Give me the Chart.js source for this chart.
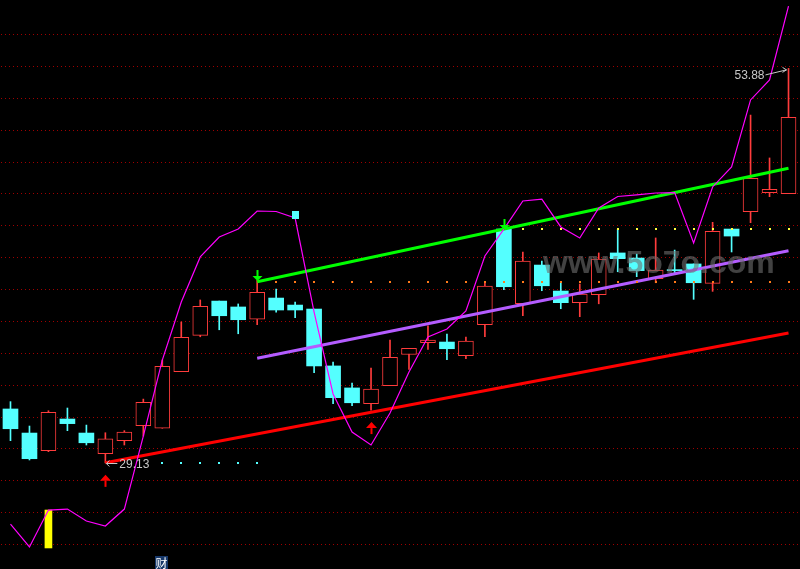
<!DOCTYPE html>
<html>
<head>
<meta charset="utf-8">
<script src="https://cdn.jsdelivr.net/npm/chart.js@4.4.1/dist/chart.umd.min.js"></script>
<style>
  html, body { margin: 0; padding: 0; background: #000; }
  #wrap { width: 800px; height: 569px; }
</style>
</head>
<body>
<div id="wrap"><canvas id="kline" width="800" height="569"></canvas></div>
<script>
// daily bars, oldest first
const opens  = [32.51, 31.00, 29.89, 31.88, 31.00, 29.70, 30.52, 31.46, 31.30, 34.85,
                37.13, 39.28, 38.91, 38.14, 39.47, 39.03, 38.78, 35.21, 33.83, 32.84,
                33.97, 35.93, 36.67, 36.71, 35.85, 37.80, 43.80, 39.11, 41.54, 39.91,
                39.18, 39.68, 42.30, 41.98, 40.68, 41.21, 41.61, 40.39, 43.80, 44.89,
                46.08, 46.02];
const highs  = [32.97, 31.44, 32.40, 32.57, 31.50, 31.02, 31.15, 33.13, 35.58, 37.97,
                39.35, 39.28, 39.10, 40.60, 40.04, 39.22, 38.78, 35.46, 34.14, 35.08,
                36.84, 36.32, 37.72, 37.21, 37.02, 40.48, 43.80, 42.36, 41.79, 40.43,
                40.35, 42.30, 43.80, 42.23, 43.24, 42.48, 41.61, 44.22, 43.80, 50.95,
                48.26, 53.88];
const lows   = [30.52, 29.31, 29.83, 31.15, 30.25, 29.13, 30.25, 30.81, 31.30, 34.85,
                37.04, 37.48, 37.23, 37.80, 38.59, 38.24, 34.79, 32.84, 32.71, 32.44,
                33.97, 34.99, 36.25, 35.60, 35.66, 37.04, 39.99, 38.36, 39.93, 38.80,
                38.30, 39.11, 41.12, 40.81, 40.43, 41.04, 39.39, 39.89, 42.36, 44.20,
                45.83, 46.02];
const closes = [31.27, 29.39, 32.30, 31.59, 30.39, 30.63, 31.06, 32.93, 35.19, 37.01,
                38.95, 38.36, 38.11, 39.83, 38.72, 38.72, 35.21, 33.22, 32.90, 33.76,
                35.75, 36.32, 36.84, 36.29, 36.77, 40.22, 40.18, 41.79, 40.24, 39.18,
                39.72, 41.92, 41.94, 41.19, 41.23, 41.19, 40.43, 43.66, 43.36, 46.98,
                46.29, 50.81];

// magenta indicator line
const indicator = [25.29, 23.85, 26.17, 26.23, 25.48, 25.17, 26.23, 30.81, 35.58, 39.22,
                   42.05, 43.30, 43.80, 44.93, 44.90, 44.49, 38.59, 33.45, 31.06, 30.25,
                   32.26, 34.83, 37.03, 37.53, 38.66, 42.11, 43.80, 45.56, 45.68, 43.93,
                   43.24, 45.12, 45.84, 45.94, 46.06, 46.09, 42.92, 46.44, 47.69, 51.90,
                   53.15, 57.79];

// trend lines: [bar index, price]
const greenTrend  = [[13, 40.49], [41, 47.61]];
const purpleTrend = [[13, 35.69], [41, 42.44]];
const redTrend    = [[5, 29.14], [41, 37.28]];

// yellow signal bar: [bar index, from, to]
const yellowBar = [2, 23.79, 26.17];

// signal marks
const buyArrows  = [5, 19];
const sellArrows = [13, 26];
const boxMark    = 15;

// dotted support / resistance levels: [level, first bar, last bar]
const cyanDots   = [29.10, 8, 13];
const orangeDots = [40.49, 14, 41];
const yellowDots = [43.78, 27, 41];

const lowMark  = [5, "29.13"];
const highMark = [41, "53.88"];

const labels = opens.map((_, i) => i);
const RED = "#ff3c3c";
const CYAN = "#54ffff";
const isUp = closes.map((c, i) => c >= opens[i]);

const toLine = (pts) => pts.map(([i, v]) => ({ x: i, y: v }));

const overlay = {
  id: "overlay",
  beforeDraw(chart) {
    const { ctx, width, height } = chart;
    ctx.save();
    ctx.fillStyle = "#000";
    ctx.fillRect(0, 0, width, height);
    ctx.restore();
  },
  afterDatasetsDraw(chart) {
    const { ctx } = chart;
    const x = chart.scales.x;
    const y = chart.scales.y;
    ctx.save();

    // level dots
    [[cyanDots, CYAN], [orangeDots, "#ff7a1a"], [yellowDots, "#ffff40"]].forEach(([d, col]) => {
      ctx.fillStyle = col;
      const py = Math.round(y.getPixelForValue(d[0]));
      for (let i = d[1]; i <= d[2]; i++) {
        ctx.fillRect(Math.round(x.getPixelForValue(i)) - 1, py - 1, 2, 2);
      }
    });

    // red buy arrows under the lows
    ctx.fillStyle = "#ff0000";
    buyArrows.forEach((i) => {
      const px = Math.round(x.getPixelForValue(i)) + 0.5;
      const tip = y.getPixelForValue(lows[i]) + 12;
      ctx.beginPath();
      ctx.moveTo(px, tip);
      ctx.lineTo(px + 5.5, tip + 6);
      ctx.lineTo(px - 5.5, tip + 6);
      ctx.closePath();
      ctx.fill();
      ctx.fillRect(px - 1, tip + 6, 2, 6);
    });

    // green sell arrows above the highs
    ctx.fillStyle = "#00ff00";
    sellArrows.forEach((i) => {
      const px = Math.round(x.getPixelForValue(i)) + 0.5;
      const tip = y.getPixelForValue(highs[i]) + 1;
      ctx.fillRect(px - 1, tip - 11, 2, 6);
      ctx.beginPath();
      ctx.moveTo(px, tip);
      ctx.lineTo(px + 5, tip - 5);
      ctx.lineTo(px - 5, tip - 5);
      ctx.closePath();
      ctx.fill();
    });

    // cyan box on the indicator
    ctx.fillStyle = CYAN;
    const bx = x.getPixelForValue(boxMark);
    const by = y.getPixelForValue(indicator[boxMark]) - 3;
    ctx.fillRect(Math.round(bx) - 3, Math.round(by) - 4, 7, 8);

    // low / high price labels
    ctx.font = '12px "Liberation Sans", Arial, sans-serif';
    ctx.fillStyle = "#c8c8c8";
    ctx.strokeStyle = "#c8c8c8";
    ctx.lineWidth = 1;
    ctx.textBaseline = "middle";

    const lx = x.getPixelForValue(lowMark[0]);
    const ly = Math.round(y.getPixelForValue(lows[lowMark[0]])) + 0.5;
    ctx.beginPath();
    ctx.moveTo(lx + 12, ly);
    ctx.lineTo(lx + 1, ly);
    ctx.moveTo(lx + 4, ly - 3);
    ctx.lineTo(lx + 1, ly);
    ctx.lineTo(lx + 4, ly + 3);
    ctx.stroke();
    ctx.textAlign = "left";
    ctx.fillText(lowMark[1], lx + 14, ly + 1);

    const hx = x.getPixelForValue(highMark[0]);
    const hy = y.getPixelForValue(highs[highMark[0]]);
    ctx.textAlign = "right";
    ctx.fillText(highMark[1], hx - 24, hy + 7);
    ctx.beginPath();
    ctx.moveTo(hx - 23, hy + 6.5);
    ctx.lineTo(hx - 2, hy + 1.5);
    ctx.moveTo(hx - 6, hy - 1);
    ctx.lineTo(hx - 2, hy + 1.5);
    ctx.lineTo(hx - 6, hy + 4);
    ctx.stroke();

    // watermark
    ctx.font = 'bold 32px "Liberation Sans", Arial, sans-serif';
    ctx.fillStyle = "rgba(110,110,110,0.6)";
    ctx.textAlign = "left";
    ctx.textBaseline = "alphabetic";
    ctx.fillText("www.5o7o.com", 543, 273);

    // small tab at the bottom
    ctx.fillStyle = "#17386a";
    ctx.fillRect(155, 556, 13, 13);
    ctx.fillStyle = "#ffffff";
    ctx.font = '12px "Noto Sans CJK SC", sans-serif';
    ctx.textAlign = "center";
    ctx.textBaseline = "middle";
    ctx.fillText("财", 161.5, 563);

    ctx.restore();
  },
};

new Chart(document.getElementById("kline"), {
  type: "bar",
  data: {
    labels: labels,
    datasets: [
      {
        type: "line",
        data: indicator,
        borderColor: "#ff00ff",
        borderWidth: 1.2,
        pointRadius: 0,
        tension: 0,
        order: 1,
      },
      {
        type: "line",
        data: toLine(greenTrend),
        borderColor: "#00ff00",
        borderWidth: 3,
        pointRadius: 0,
        order: 2,
      },
      {
        type: "line",
        data: toLine(purpleTrend),
        borderColor: "#b45cff",
        borderWidth: 3,
        pointRadius: 0,
        order: 2,
      },
      {
        type: "line",
        data: toLine(redTrend),
        borderColor: "#ff0000",
        borderWidth: 3,
        pointRadius: 0,
        order: 2,
      },
      {
        data: labels.map((i) => (i === yellowBar[0] ? [yellowBar[1], yellowBar[2]] : null)),
        backgroundColor: "#ffff00",
        barThickness: 7,
        grouped: false,
        order: 3,
      },
      {
        data: opens.map((o, i) => [o, closes[i]]),
        backgroundColor: isUp.map((u) => (u ? "#000000" : CYAN)),
        borderColor: isUp.map((u) => (u ? RED : CYAN)),
        borderWidth: isUp.map((u) => (u ? 1 : 0)),
        borderSkipped: false,
        barThickness: 15,
        minBarLength: 1,
        grouped: false,
        order: 4,
      },
      {
        data: lows.map((l, i) => [l, highs[i]]),
        backgroundColor: isUp.map((u) => (u ? RED : CYAN)),
        barThickness: 1,
        grouped: false,
        order: 5,
      },
    ],
  },
  options: {
    responsive: false,
    animation: false,
    devicePixelRatio: 1,
    layout: { padding: { left: 1, right: 2, top: 0, bottom: 0 } },
    plugins: { legend: { display: false }, tooltip: { enabled: false } },
    scales: {
      x: { display: false },
      y: {
        min: 22.47,
        max: 58.17,
        beginAtZero: false,
        ticks: { display: false, stepSize: 2, includeBounds: false },
        border: { display: false, dash: [1, 3] },
        grid: {
          drawTicks: false,
          lineWidth: 1,
          color: (c) => (c.tick && c.tick.value > 56.5 ? "rgba(0,0,0,0)" : "#a00000"),
        },
      },
    },
  },
  plugins: [overlay],
});
</script>
</body>
</html>
